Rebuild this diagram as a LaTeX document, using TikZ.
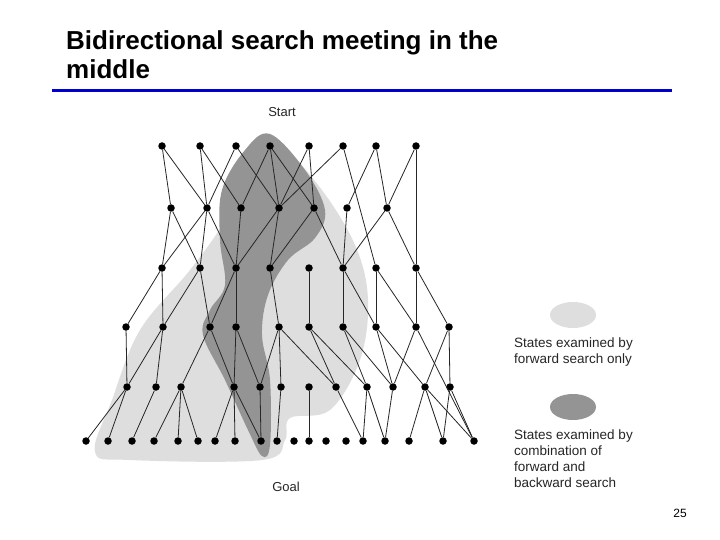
\documentclass[tikz,border=0pt]{standalone}
\usepackage{fontspec}
\setmainfont{Liberation Sans}
\begin{document}
\begin{tikzpicture}[x=1pt,y=-1pt,
  dot/.style={circle,fill=black,inner sep=0pt,minimum size=7.5pt},
  edge/.style={draw=black!85,line width=0.8pt},
  lbl/.style={font=\fontsize{13.5}{16}\selectfont,color=black!85,align=left,anchor=north west,inner sep=0pt}]
\useasboundingbox (0,0) rectangle (720,540);
\fill[white] (0,0) rectangle (720,540);
% title
\node[anchor=north west,align=left,inner sep=0pt,font=\fontsize{26}{29}\selectfont\bfseries] (title) at (66,30) {Bidirectional search meeting in the\\middle};
\draw[line width=3pt,color=blue!80!black] (52,91) -- (672,91);
% blobs
\fill[black!13] plot[smooth cycle,tension=0.6] coordinates {(272,140) (318,185) (355,245) (368,300) (360,360) (330,410) (290,418) (285,440) (262,460) (130,460) (95,452) (112,400) (140,330) (190,270) (225,220) (245,170)};
\fill[black!42] plot[smooth cycle,tension=0.6] coordinates {(270,134) (305,170) (325,210) (315,238) (288,260) (268,295) (262,335) (270,380) (270,445) (262,456) (248,430) (225,380) (203,335) (210,310) (225,285) (220,240) (222,190) (245,150)};
% nodes
\foreach \n/\x in {a/162,b/200,c/236,d/270,e/309,f/343,g/376,h/416}{\node[dot] (r1\n) at (\x,146) {};}
\foreach \n/\x in {a/171,b/207,c/241,d/279,e/314,f/347,g/387}{\node[dot] (r2\n) at (\x,208) {};}
\foreach \n/\x in {a/162,b/200,c/236,d/270,e/309,f/343,g/376,h/416}{\node[dot] (r3\n) at (\x,268) {};}
\foreach \n/\x in {a/126,b/163,c/210,d/236,e/279,f/309,g/343,h/376,i/416,j/449}{\node[dot] (r4\n) at (\x,327) {};}
\foreach \n/\x in {a/127,b/156,c/181,d/234,e/260,f/281,g/309,h/336,i/367,j/393,k/425,l/450}{\node[dot] (r5\n) at (\x,387) {};}
\foreach \n/\x in {a/86,b/108,c/132,d/154,e/178,f/198,g/215,h/235,i/261,j/277,k/294,l/309,m/326,n/346,o/363,p/385,q/409,r/443,s/474}{\node[dot] (r6\n) at (\x,441) {};}
% edges
\foreach \u/\v in {r1a/r2a,r1a/r2b,r1b/r2b,r1b/r2c,r1c/r2b,r1c/r2d,r1d/r2c,r1d/r2d,r1d/r2e,r1e/r2d,r1e/r2e,r1f/r2d,r1f/r3g,r1g/r2f,r1g/r2g,r1h/r2g,r1h/r3h,
 r2a/r3a,r2a/r3b,r2b/r3a,r2b/r3b,r2b/r3c,r2c/r3c,r2d/r3c,r2d/r3d,r2e/r3d,r2e/r3f,r2f/r3f,r2g/r3f,r2g/r3h,
 r3a/r4a,r3a/r4b,r3b/r4b,r3b/r4c,r3c/r4c,r3c/r4d,r3d/r4e,r3e/r4f,r3f/r4g,r3f/r4h,r3g/r4h,r3g/r4i,r3h/r4i,r3h/r4j,
 r4a/r5a,r4b/r5a,r4b/r5b,r4c/r5c,r4c/r5d,r4d/r5d,r4d/r5e,r4e/r5e,r4e/r5f,r4e/r5h,r4f/r5h,r4f/r5i,r4g/r5i,r4g/r5j,r4h/r5j,r4h/r5k,r4i/r5j,r4i/r6s,r4j/r5k,r4j/r5l,
 r5a/r6a,r5a/r6b,r5b/r6c,r5c/r6d,r5c/r6e,r5c/r6f,r5d/r6g,r5d/r6h,r5d/r6i,r5e/r6i,r5f/r6j,r5g/r6l,r5h/r6o,r5i/r6o,r5i/r6p,r5j/r6p,r5k/r6q,r5k/r6r,r5k/r6s,r5l/r6r,r5l/r6s}
 {\draw[edge] (\u) -- (\v);}
\node[font=\fontsize{13}{15}\selectfont,color=black!85] (start) at (282,112) {Start};
\node[font=\fontsize{13}{15}\selectfont,color=black!85] (goal) at (286,487) {Goal};
% legend
\fill[black!13] (573,315) ellipse (23pt and 13pt);
\fill[black!42] (573,407) ellipse (23pt and 13pt);
\node[lbl] (l1) at (514,338) {States examined by\\forward search only};
\node[lbl] (l2) at (514,430) {States examined by\\combination of\\forward and\\backward search};
\node[font=\fontsize{12}{14}\selectfont] (pg) at (680,513) {25};
\end{tikzpicture}
\end{document}
